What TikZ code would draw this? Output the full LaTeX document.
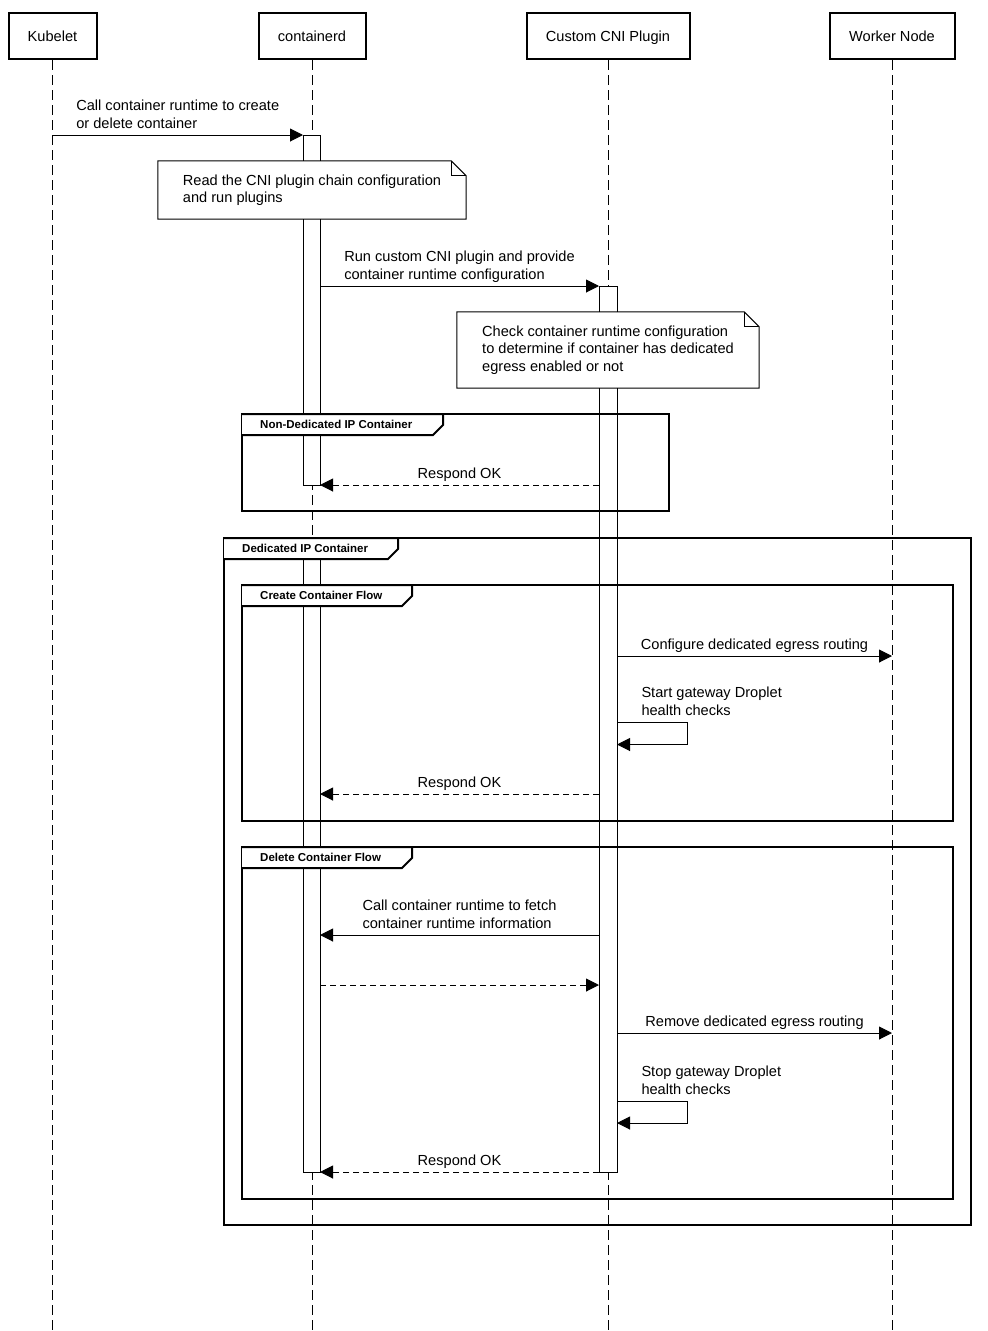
\documentclass[tikz,border=0pt]{standalone}
\usepackage{fontspec}
\setmainfont{Liberation Sans}
\usetikzlibrary{arrows.meta, positioning, calc}

\tikzset{
  actor/.style={draw, line width=2pt, minimum height=46pt, inner sep=0pt, text depth=0pt, font=\fontsize{14.6}{17.5}\selectfont},
  lifeline/.style={line width=1pt, dash pattern=on 10pt off 5pt},
  activation/.style={draw, fill=white, line width=1pt, minimum width=17pt, inner sep=0pt, outer sep=0pt},
  msg/.style={line width=1pt, -{Triangle[length=13pt, width=13pt]}},
  reply/.style={msg, dash pattern=on 6pt off 4pt},
  msglabel/.style={above=6.5pt, inner sep=0pt, text depth=0pt, align=left, font=\fontsize{14.6}{17.5}\selectfont},
  selflabel/.style={anchor=south west, xshift=24pt, yshift=6.5pt, inner sep=0pt, text depth=0pt, align=left, font=\fontsize{14.6}{17.5}\selectfont},
  notebox/.style={fill=white, inner sep=0pt, align=left, font=\fontsize{14.6}{17.5}\selectfont},
  notefold/.style={line width=1pt},
  fragment/.style={draw, line width=2pt},
  fragtab/.style={draw, fill=white, line width=2pt},
  fraglabel/.style={anchor=west, inner sep=0pt, font=\bfseries\fontsize{11.5}{13}\selectfont}
}

\begin{document}
\begin{tikzpicture}[x=1pt, y=-1pt]
    \useasboundingbox (0,0) rectangle (988,1331);

    % participants
    \node (Kubelet) [actor, minimum width=88pt] at (52.5,36) {Kubelet};
    \node (Containerd) [actor, minimum width=107pt] at (312,36) {containerd};
    \node (CNIPlugin) [actor, minimum width=163pt] at (608,36) {Custom CNI Plugin};
    \node (WorkerNode) [actor, minimum width=125pt] at (892,36) {Worker Node};

    \coordinate (PageBottom) at (0,1331);
    \draw[lifeline] (Kubelet.south) -- (Kubelet.south |- PageBottom);
    \draw[lifeline] (Containerd.south) -- (Containerd.south |- PageBottom);
    \draw[lifeline] (CNIPlugin.south) -- (CNIPlugin.south |- PageBottom);
    \draw[lifeline] (WorkerNode.south) -- (WorkerNode.south |- PageBottom);

    % activations
    \node (ContainerdActA) [activation, minimum height=350pt] at (311.5,310) {};
    \node (ContainerdActB) [activation, minimum height=627pt] at (311.5,858.5) {};
    \node (CNIAct) [activation, minimum width=18pt, minimum height=886pt] at (608,729) {};

    % fragments
    \draw[fragment] (242,414) rectangle (669,511);
    \draw[fragment] (224,538) rectangle (971,1225);
    \draw[fragment] (242,585) rectangle (953,821);
    \draw[fragment] (242,847) rectangle (953,1199);

    \draw[fragtab] (242,414) -- (443,414) -- (443,425) -- (433,435) -- (242,435);
    \node (NonDedicatedTab) [fraglabel] at (260,424.5) {Non-Dedicated IP Container};
    \draw[fragtab] (224,538) -- (398,538) -- (398,549) -- (388,559) -- (224,559);
    \node (DedicatedTab) [fraglabel] at (242,548.5) {Dedicated IP Container};
    \draw[fragtab] (242,585) -- (412,585) -- (412,596) -- (402,606) -- (242,606);
    \node (CreateTab) [fraglabel] at (260,595.5) {Create Container Flow};
    \draw[fragtab] (242,847) -- (412,847) -- (412,858) -- (402,868) -- (242,868);
    \node (DeleteTab) [fraglabel] at (260,857.5) {Delete Container Flow};

    % notes
    \node (ReadConfig) [notebox, minimum width=308pt, minimum height=58pt] at (312,190)
        {Read the CNI plugin chain configuration\\and run plugins};
    \draw[notefold] (ReadConfig.north west) -- ($(ReadConfig.north east)+(-15,0)$)
        -- ($(ReadConfig.north east)+(0,15)$) -- (ReadConfig.south east)
        -- (ReadConfig.south west) -- cycle;
    \draw[notefold] ($(ReadConfig.north east)+(-15,0)$) -- ($(ReadConfig.north east)+(-15,15)$)
        -- ($(ReadConfig.north east)+(0,15)$);

    \node (CheckConfig) [notebox, minimum width=302pt, minimum height=76pt] at (608,350)
        {Check container runtime configuration\\to determine if container has dedicated\\egress enabled or not};
    \draw[notefold] (CheckConfig.north west) -- ($(CheckConfig.north east)+(-15,0)$)
        -- ($(CheckConfig.north east)+(0,15)$) -- (CheckConfig.south east)
        -- (CheckConfig.south west) -- cycle;
    \draw[notefold] ($(CheckConfig.north east)+(-15,0)$) -- ($(CheckConfig.north east)+(-15,15)$)
        -- ($(CheckConfig.north east)+(0,15)$);

    % message rows
    \coordinate (RowCall) at (0,135);
    \coordinate (RowConfigure) at (0,656);
    \coordinate (RowStartHealth) at (0,722);
    \coordinate (RowStartHealthBack) at (0,744.5);
    \coordinate (RowRespondB) at (0,794);
    \coordinate (RowFetch) at (0,935);
    \coordinate (RowFetchBack) at (0,985);
    \coordinate (RowRemove) at (0,1033);
    \coordinate (RowStopHealth) at (0,1101);
    \coordinate (RowStopHealthBack) at (0,1123);

    \draw[msg] (Kubelet |- RowCall) -- node[msglabel] {Call container runtime to create\\or delete container} (ContainerdActA.north west);
    \draw[msg] (ContainerdActA.east |- CNIAct.north) -- node[msglabel] {Run custom CNI plugin and provide\\container runtime configuration} (CNIAct.north west);
    \draw[reply] (CNIAct.west |- ContainerdActA.south) -- node[msglabel] {Respond OK} (ContainerdActA.south east);

    \draw[msg] (CNIAct.east |- RowConfigure) -- node[msglabel] {Configure dedicated egress routing} (WorkerNode |- RowConfigure);
    \draw[msg] (CNIAct.east |- RowStartHealth) node[selflabel] {Start gateway Droplet\\health checks}
        -- ++(70,0) |- (CNIAct.east |- RowStartHealthBack);
    \draw[reply] (CNIAct.west |- RowRespondB) -- node[msglabel] {Respond OK} (ContainerdActB.east |- RowRespondB);

    \draw[msg] (CNIAct.west |- RowFetch) -- node[msglabel] {Call container runtime to fetch\\container runtime information} (ContainerdActB.east |- RowFetch);
    \draw[reply] (ContainerdActB.east |- RowFetchBack) -- (CNIAct.west |- RowFetchBack);
    \draw[msg] (CNIAct.east |- RowRemove) -- node[msglabel] {Remove dedicated egress routing} (WorkerNode |- RowRemove);
    \draw[msg] (CNIAct.east |- RowStopHealth) node[selflabel] {Stop gateway Droplet\\health checks}
        -- ++(70,0) |- (CNIAct.east |- RowStopHealthBack);
    \draw[reply] (CNIAct.south west) -- node[msglabel] {Respond OK} (ContainerdActB.south east);

\end{tikzpicture}
\end{document}
